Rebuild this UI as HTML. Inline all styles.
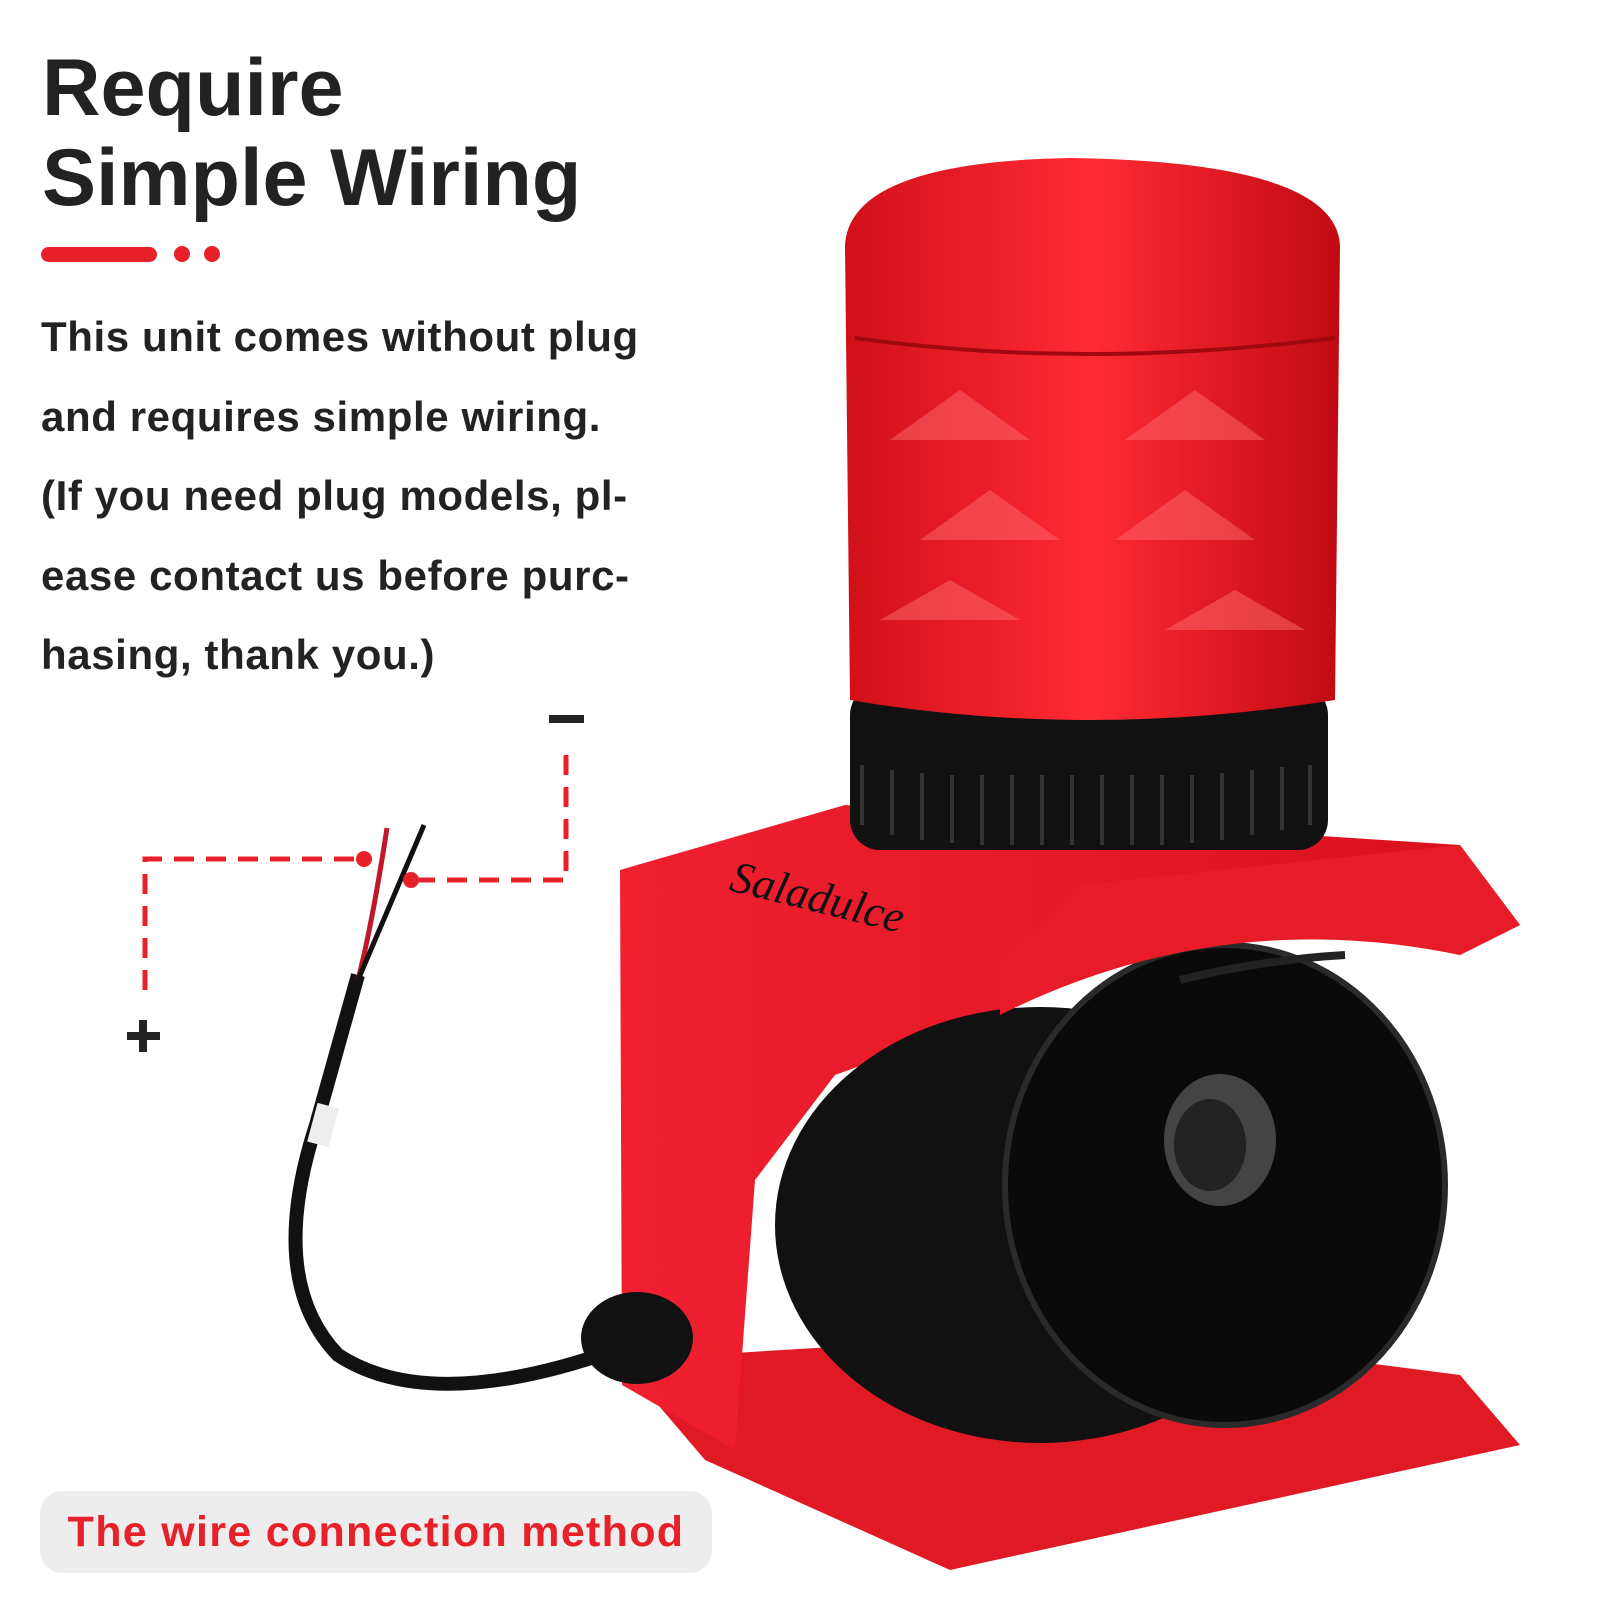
<!DOCTYPE html>
<html><head><style>
body{margin:0;width:1600px;height:1600px;background:#fff;position:relative;overflow:hidden;font-family:"Liberation Sans",sans-serif}
.t{position:absolute;left:42px;font-weight:bold;color:#222;font-size:81px;line-height:88px}
.b{position:absolute;left:41px;top:297px;font-weight:bold;color:#222;font-size:42px;line-height:79.5px;letter-spacing:0.6px}
.pill{position:absolute;left:40px;top:1491px;width:672px;height:82px;background:#ededed;border-radius:22px;color:#e8202a;font-weight:bold;font-size:43px;line-height:82px;text-align:center;letter-spacing:1.3px}
svg{position:absolute;left:0;top:0}
</style></head><body>
<svg width="1600" height="1600">
<defs>
<linearGradient id="dome" x1="0" x2="1"><stop offset="0" stop-color="#d0101a"/><stop offset=".5" stop-color="#ff2a32"/><stop offset="1" stop-color="#c00a14"/></linearGradient>
<linearGradient id="box" x1="0" x2="1"><stop offset="0" stop-color="#f02030"/><stop offset="1" stop-color="#d8101e"/></linearGradient>
</defs>
<polygon points="620,1360 705,1460 950,1570 1520,1445 1460,1375 1110,1330" fill="#e01a24"/>
<polygon points="620,870 845,805 1460,845 1520,925 1460,955 1320,925 1070,975 1000,1015 835,1075 755,1180 735,1450 622,1385" fill="url(#box)"/>
<ellipse cx="1040" cy="1225" rx="265" ry="218" fill="#111"/>
<ellipse cx="1225" cy="1185" rx="220" ry="240" fill="#0a0a0a" stroke="#2a2a2a" stroke-width="6"/>
<ellipse cx="1220" cy="1140" rx="56" ry="66" fill="#444"/>
<ellipse cx="1210" cy="1145" rx="36" ry="46" fill="#222"/>
<path d="M1000,1015 Q1220,905 1460,955 L1520,925 L1460,845 L1080,885 L1000,965 Z" fill="#e81c28"/>
<path d="M1180,980 Q1260,960 1345,955" stroke="#222" stroke-width="8" fill="none"/>
<rect x="850" y="685" width="478" height="165" rx="30" fill="#111"/>
<g stroke="#333" stroke-width="4">
<line x1="862" y1="765" x2="862" y2="825"/><line x1="892" y1="770" x2="892" y2="835"/><line x1="922" y1="773" x2="922" y2="840"/><line x1="952" y1="775" x2="952" y2="843"/><line x1="982" y1="775" x2="982" y2="845"/><line x1="1012" y1="775" x2="1012" y2="845"/><line x1="1042" y1="775" x2="1042" y2="845"/><line x1="1072" y1="775" x2="1072" y2="845"/><line x1="1102" y1="775" x2="1102" y2="845"/><line x1="1132" y1="775" x2="1132" y2="845"/><line x1="1162" y1="775" x2="1162" y2="845"/><line x1="1192" y1="775" x2="1192" y2="843"/><line x1="1222" y1="773" x2="1222" y2="840"/><line x1="1252" y1="770" x2="1252" y2="835"/><line x1="1282" y1="767" x2="1282" y2="830"/><line x1="1310" y1="765" x2="1310" y2="825"/>
</g>
<path d="M845,245 Q850,162 1070,158 Q1335,162 1340,245 L1335,700 Q1085,740 850,700 Z" fill="url(#dome)"/>
<path d="M855,338 Q1085,370 1335,338" stroke="#a00810" stroke-width="4" fill="none"/>
<g fill="#ff6a70" opacity=".5">
<polygon points="890,440 960,390 1030,440"/><polygon points="1125,440 1195,390 1265,440"/><polygon points="920,540 990,490 1060,540"/><polygon points="1115,540 1185,490 1255,540"/><polygon points="880,620 950,580 1020,620"/><polygon points="1165,630 1235,590 1305,630"/>
</g>
<text x="728" y="890" transform="rotate(14 728 890)" font-family="Liberation Serif" font-style="italic" font-size="45" fill="#111">Saladulce</text>
<path d="M615,1350 Q430,1415 338,1355 Q266,1280 316,1125 L358,975" stroke="#111" stroke-width="14" fill="none"/>
<rect x="312" y="1105" width="22" height="40" fill="#eee" transform="rotate(15 323 1125)"/>
<path d="M358,980 Q372,925 387,828" stroke="#c01828" stroke-width="5" fill="none"/>
<path d="M358,980 Q390,905 424,825" stroke="#111" stroke-width="5" fill="none"/>
<ellipse cx="637" cy="1338" rx="56" ry="46" fill="#111"/>
<g stroke="#e8202a" stroke-width="5" stroke-dasharray="20,12" fill="none">
<path d="M145,990 V859 H359"/>
<path d="M415,880 H566 V748"/>
</g>
<circle cx="364" cy="859" r="8" fill="#e8202a"/>
<circle cx="411" cy="880" r="8" fill="#e8202a"/>
<rect x="549" y="715" width="35" height="8" fill="#222"/>
<rect x="127" y="1032" width="33" height="8" fill="#222"/><rect x="139" y="1020" width="8" height="32" fill="#222"/>
<rect x="41" y="247" width="116" height="15" rx="7.5" fill="#e8202a"/>
<circle cx="182" cy="254" r="8" fill="#e8202a"/><circle cx="212" cy="254" r="8" fill="#e8202a"/>
</svg>
<div class="t" style="top:44px">Require</div>
<div class="t" style="top:134px">Simple Wiring</div>
<div class="b">This unit comes without plug<br>and requires simple wiring.<br>(If you need plug models, pl-<br>ease contact us before purc-<br>hasing, thank you.)</div>
<div class="pill">The wire connection method</div>
</body></html>
